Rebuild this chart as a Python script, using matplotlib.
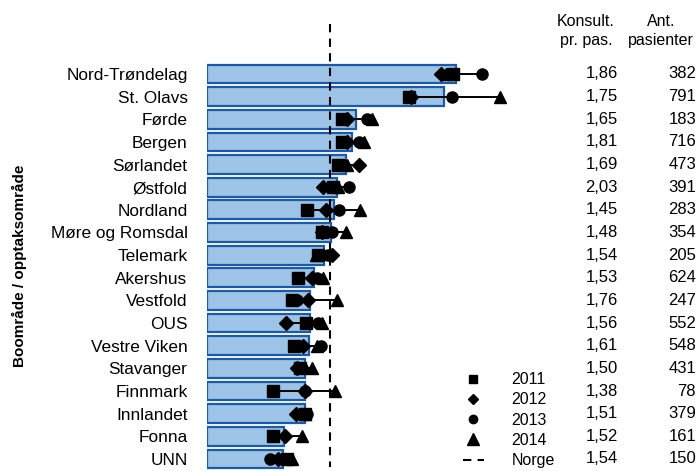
import matplotlib
matplotlib.use("Agg")
from matplotlib import pyplot as plt
from matplotlib.lines import Line2D
from matplotlib.transforms import blended_transform_factory

plt.rcParams['font.family'] = ['Liberation Sans', 'DejaVu Sans']

regions = ['Nord-Trøndelag', 'St. Olavs', 'Førde', 'Bergen', 'Sørlandet', 'Østfold',
           'Nordland', 'Møre og Romsdal', 'Telemark', 'Akershus', 'Vestfold', 'OUS',
           'Vestre Viken', 'Stavanger', 'Finnmark', 'Innlandet', 'Fonna', 'UNN']
rate = [24.9, 23.7, 14.9, 14.5, 13.9, 13.0, 12.7, 12.4, 11.7, 10.7, 10.3, 10.3,
        10.2, 9.8, 9.8, 9.8, 7.7, 7.6]
y2011 = [24.6, 20.2, 13.5, 13.5, 13.1, 12.6, 10.0, 11.5, 11.1, 9.1, 8.5, 9.9,
         8.7, 9.3, 6.6, 9.8, 6.6, 8.0]
y2012 = [23.4, 20.4, 14.0, 14.0, 15.2, 11.6, 11.9, 11.5, 12.5, 10.5, 10.1, 7.9,
         9.6, 9.0, 9.8, 8.9, 7.8, 7.1]
y2013 = [27.5, 24.5, 16.0, 15.2, 13.6, 14.2, 13.2, 12.5, 12.1, 11.0, 9.0, 11.1,
         11.4, 9.5, 9.8, 10.0, 6.7, 6.3]
y2014 = [23.9, 29.3, 16.5, 15.7, 14.0, 13.1, 15.3, 13.9, 10.9, 11.6, 13.0, 11.5,
         11.0, 10.5, 12.8, 9.8, 9.5, 8.5]
norge = 12.3
konsult = ['1,86', '1,75', '1,65', '1,81', '1,69', '2,03', '1,45', '1,48', '1,54',
           '1,53', '1,76', '1,56', '1,61', '1,50', '1,38', '1,51', '1,52', '1,54']
pasienter = [382, 791, 183, 716, 473, 391, 283, 354, 205, 624, 247, 552, 548, 431,
             78, 379, 161, 150]

fig = plt.figure(figsize=(7, 4.71), dpi=100)
ax = fig.add_axes([207 / 700, 0.0015, 313 / 700, 0.8655])

ypos = list(range(len(regions)))
ax.barh(ypos, rate, height=0.83, color='#9dc3e6', edgecolor='#1a5aa6', linewidth=1.6, zorder=1)

# line between lowest and highest year
for i in ypos:
    vals = [y2011[i], y2012[i], y2013[i], y2014[i]]
    ax.plot([min(vals), max(vals)], [i, i], color='black', lw=1.4, zorder=2)

ax.plot(y2012, ypos, 'D', color='black', ms=7, ls='none', zorder=3)
ax.plot(y2014, ypos, '^', color='black', ms=9, ls='none', zorder=3)
ax.plot(y2013, ypos, 'o', color='black', ms=8, ls='none', zorder=3)
ax.plot(y2011, ypos, 's', color='black', ms=8, ls='none', zorder=4)

ax.plot([norge, norge], [-2.2, 17.35], color='black', lw=1.5, ls=(0, (4, 3)),
        clip_on=False, zorder=5)

ax.set_xlim(0, 31.3)
ax.set_ylim(17.5, -0.5)
ax.set_yticks(ypos)
ax.set_yticklabels(regions, fontsize=12.4)
ax.tick_params(axis='y', length=0, pad=14)
ax.set_xticks([])
for s in ax.spines.values():
    s.set_visible(False)

fig.text(19 / 700, 1 - 266 / 471, 'Boområde / opptaksområde', rotation=90,
         fontsize=11, fontweight='bold', ha='center', va='center')

tr = blended_transform_factory(fig.transFigure, ax.transData)
for i in ypos:
    ax.text(618 / 700, i, konsult[i], transform=tr, ha='right', va='center', fontsize=12)
    ax.text(696 / 700, i, str(pasienter[i]), transform=tr, ha='right', va='center', fontsize=12)
fig.text(586 / 700, 1 - 31 / 471, 'Konsult.\npr. pas.', ha='center', va='center',
         fontsize=11.5, linespacing=1.35)
fig.text(661 / 700, 1 - 31 / 471, 'Ant.\npasienter', ha='center', va='center',
         fontsize=11.5, linespacing=1.35)

handles = [Line2D([], [], marker='s', color='black', ls='none', ms=6),
           Line2D([], [], marker='D', color='black', ls='none', ms=5),
           Line2D([], [], marker='o', color='black', ls='none', ms=6),
           Line2D([], [], marker='^', color='black', ls='none', ms=9),
           Line2D([], [], color='black', ls=(0, (4, 3)), lw=1.5)]
fig.legend(handles, ['2011', '2012', '2013', '2014', 'Norge'], loc='lower left',
           bbox_to_anchor=(455 / 700, -0.011), frameon=False, fontsize=11.5,
           handlelength=1.3, handletextpad=1.75, labelspacing=0.33, borderpad=0)

fig.savefig('out.png', dpi=100)
